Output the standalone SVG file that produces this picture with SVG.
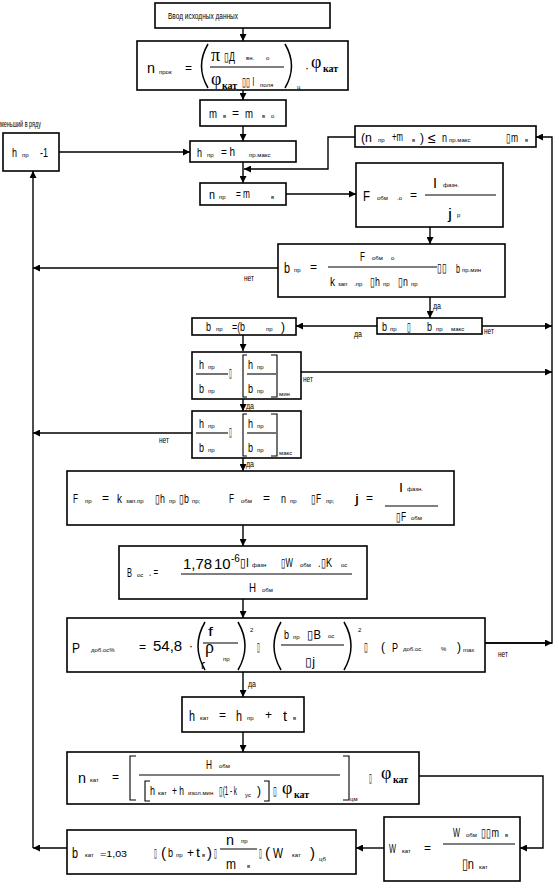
<svg xmlns="http://www.w3.org/2000/svg" width="559" height="894" viewBox="0 0 559 894">
<style>
.box{fill:#fff;stroke:#000;stroke-width:1.6}
.ln{fill:none;stroke:#000;stroke-width:1.4}
.fr{stroke:#000;stroke-width:1.1}
.pa{fill:none;stroke:#000;stroke-width:1.5}
text{font-family:"Liberation Sans Narrow","Liberation Sans",Arial,sans-serif;fill:#000}
.m{font-size:12px}
.b{font-size:15px}
.s{font-size:6px}
.l{font-size:9px}
.g{font-family:"Liberation Serif","DejaVu Serif",serif;font-size:18px}
.k{font-family:"Liberation Serif","DejaVu Serif",serif;font-size:10px;font-weight:bold}
.r{font-family:"Liberation Sans",Arial,sans-serif;font-size:15px}
.p{font-family:"Liberation Sans",Arial,sans-serif}
</style>
<defs>
<marker id="a" viewBox="0 0 10 10" refX="10" refY="5" markerWidth="7" markerHeight="7" orient="auto" markerUnits="userSpaceOnUse">
<path d="M0,0 L10,5 L0,10 z" fill="#000"/>
</marker>
</defs>

<g id="connectors">
<line class="ln" x1="243" y1="28" x2="243" y2="41" marker-end="url(#a)"/>
<line class="ln" x1="243" y1="90" x2="243" y2="100" marker-end="url(#a)"/>
<line class="ln" x1="243" y1="126" x2="243" y2="141" marker-end="url(#a)"/>
<line class="ln" x1="243" y1="162" x2="243" y2="183" marker-end="url(#a)"/>
<polyline class="ln" points="355,137 328,137 328,169 244,169" marker-end="url(#a)"/>
<line class="ln" x1="59" y1="152" x2="190" y2="152" marker-end="url(#a)"/>
<line class="ln" x1="286" y1="194" x2="356" y2="194" marker-end="url(#a)"/>
<polyline class="ln" points="485,643 552,643 552,137 536,137" marker-end="url(#a)"/>
<line class="ln" x1="430" y1="227" x2="430" y2="244" marker-end="url(#a)"/>
<line class="ln" x1="278" y1="268" x2="33" y2="268" marker-end="url(#a)"/>
<line class="ln" x1="430" y1="297" x2="430" y2="318" marker-end="url(#a)"/>
<line class="ln" x1="377" y1="326" x2="296" y2="326" marker-end="url(#a)"/>
<line class="ln" x1="482" y1="326" x2="552" y2="326" marker-end="url(#a)"/>
<line class="ln" x1="243" y1="335" x2="243" y2="351" marker-end="url(#a)"/>
<line class="ln" x1="301" y1="372" x2="552" y2="372" marker-end="url(#a)"/>
<line class="ln" x1="243" y1="399" x2="243" y2="411" marker-end="url(#a)"/>
<line class="ln" x1="192" y1="433" x2="33" y2="433" marker-end="url(#a)"/>
<line class="ln" x1="243" y1="458" x2="243" y2="471" marker-end="url(#a)"/>
<line class="ln" x1="243" y1="525" x2="243" y2="546" marker-end="url(#a)"/>
<line class="ln" x1="243" y1="599" x2="243" y2="618" marker-end="url(#a)"/>
<line class="ln" x1="485" y1="643" x2="552" y2="643" marker-end="url(#a)"/>
<line class="ln" x1="243" y1="672" x2="243" y2="697" marker-end="url(#a)"/>
<line class="ln" x1="243" y1="732" x2="243" y2="752" marker-end="url(#a)"/>
<polyline class="ln" points="419,776 543,776 543,848 520,848" marker-end="url(#a)"/>
<line class="ln" x1="384" y1="848" x2="356" y2="848" marker-end="url(#a)"/>
<line class="ln" x1="67" y1="848" x2="33" y2="848" marker-end="url(#a)"/>
<line class="ln" x1="33" y1="848" x2="33" y2="171" marker-end="url(#a)"/>
<text class="l" x="433" y="309" textLength="8" lengthAdjust="spacingAndGlyphs">да</text>
<text class="l" x="354" y="337" textLength="8" lengthAdjust="spacingAndGlyphs">да</text>
<text class="l" x="484" y="334" textLength="10" lengthAdjust="spacingAndGlyphs">нет</text>
<text class="l" x="244" y="281" textLength="10" lengthAdjust="spacingAndGlyphs">нет</text>
<text class="l" x="303" y="382" textLength="10" lengthAdjust="spacingAndGlyphs">нет</text>
<text class="l" x="246" y="409" textLength="8" lengthAdjust="spacingAndGlyphs">да</text>
<text class="l" x="159" y="443" textLength="10" lengthAdjust="spacingAndGlyphs">нет</text>
<text class="l" x="246" y="467" textLength="8" lengthAdjust="spacingAndGlyphs">да</text>
<text class="l" x="498" y="657" textLength="10" lengthAdjust="spacingAndGlyphs">нет</text>
<text class="l" x="248" y="687" textLength="8" lengthAdjust="spacingAndGlyphs">да</text>
</g>

<g id="n1">
<rect class="box" x="155" y="3" width="175" height="25"/>
<text class="l" x="168" y="19" textLength="70" lengthAdjust="spacingAndGlyphs">Ввод исходных данных</text>
</g>

<g id="n2">
<rect class="box" x="137" y="41" width="211" height="49"/>
<text class="b" x="147" y="73" textLength="8" lengthAdjust="spacingAndGlyphs">n</text>
<text class="s" x="159" y="74">прок</text>
<text class="m" x="185" y="72">=</text>
<path class="pa" d="M208,44 Q195,66 208,88"/>
<text class="g" font-size="22" x="211" y="61">π</text>
<text class="m" x="224" y="61" textLength="11" lengthAdjust="spacingAndGlyphs">▯Д</text>
<text class="s" x="246" y="60">вн.</text>
<text class="s" x="266" y="60">о</text>
<line class="fr" x1="210" y1="67" x2="284" y2="67"/>
<text class="g" x="211" y="85">φ</text>
<text class="k" x="222" y="89">кат</text>
<text class="m" x="242" y="86" textLength="12" lengthAdjust="spacingAndGlyphs">▯▯ l</text>
<text class="s" x="260" y="87">поля</text>
<path class="pa" d="M285,44 Q298,66 285,88"/>
<text class="s" font-size="7" x="297" y="89">ц</text>
<text class="m" x="305" y="72">·</text>
<text class="g" x="311" y="68">φ</text>
<text class="k" x="323" y="72">кат</text>
</g>

<g id="n3">
<rect class="box" x="200" y="100" width="86" height="26"/>
<text class="m" x="209" y="118" textLength="8" lengthAdjust="spacingAndGlyphs">m</text>
<text class="s" x="223" y="118">в</text>
<text class="m" x="232" y="117">=</text>
<text class="m" x="245" y="118" textLength="8" lengthAdjust="spacingAndGlyphs">m</text>
<text class="s" x="262" y="118">в</text>
<text class="s" x="271" y="118">о</text>
</g>

<g id="n4">
<rect class="box" x="190" y="141" width="106" height="21"/>
<text class="m" x="197" y="157" textLength="5" lengthAdjust="spacingAndGlyphs">h</text>
<text class="s" x="207" y="157">пр</text>
<text class="m" x="221" y="156" textLength="14" lengthAdjust="spacingAndGlyphs">= h</text>
<text class="s" x="249" y="157">пр.макс</text>
</g>

<g id="n5">
<rect class="box" x="200" y="183" width="86" height="22"/>
<text class="m" x="209" y="199" textLength="6" lengthAdjust="spacingAndGlyphs">n</text>
<text class="s" x="219" y="199">пр</text>
<text class="m" x="236" y="198" textLength="14" lengthAdjust="spacingAndGlyphs">= m</text>
<text class="s" x="271" y="199">в</text>
</g>

<g id="n6">
<rect class="box" x="3" y="133" width="56" height="38"/>
<text class="m" x="12" y="157" textLength="5" lengthAdjust="spacingAndGlyphs">h</text>
<text class="s" x="22" y="157">пр</text>
<text class="m" x="40" y="157" textLength="8" lengthAdjust="spacingAndGlyphs">-1</text>
<text class="l" x="0" y="127" textLength="41" lengthAdjust="spacingAndGlyphs">меньший в ряду</text>
</g>

<g id="n7">
<rect class="box" x="355" y="126" width="181" height="21"/>
<text class="m" x="361" y="142" textLength="11" lengthAdjust="spacingAndGlyphs">(n</text>
<text class="s" x="378" y="142">пр</text>
<text class="m" x="392" y="141" textLength="11" lengthAdjust="spacingAndGlyphs">+m</text>
<text class="s" x="412" y="142">в</text>
<text class="m" x="420" y="142">)</text>
<text class="p" font-size="14" x="428" y="143">≤</text>
<text class="m" x="442" y="142" textLength="5" lengthAdjust="spacingAndGlyphs">n</text>
<text class="s" x="449" y="142">пр.макс</text>
<text class="m" x="506" y="142" textLength="12" lengthAdjust="spacingAndGlyphs">▯m</text>
<text class="s" x="525" y="142">в</text>
</g>

<g id="n8">
<rect class="box" x="356" y="163" width="147" height="64"/>
<text class="b" font-size="20" x="363" y="201" textLength="7" lengthAdjust="spacingAndGlyphs">F</text>
<text class="s" x="377" y="200">обм</text>
<text class="s" x="397" y="200">.о</text>
<text class="m" x="410" y="199">=</text>
<text class="b" font-size="20" x="433" y="188" textLength="4" lengthAdjust="spacingAndGlyphs">I</text>
<text class="s" x="443" y="187">фазн.</text>
<line class="fr" x1="425" y1="195" x2="496" y2="195"/>
<text class="b" font-size="20" x="448" y="219" textLength="4" lengthAdjust="spacingAndGlyphs">j</text>
<text class="s" x="457" y="217">р</text>
</g>

<g id="n9">
<rect class="box" x="278" y="244" width="227" height="53"/>
<text class="b" x="284" y="273" textLength="6" lengthAdjust="spacingAndGlyphs">b</text>
<text class="s" x="294" y="272">пр</text>
<text class="m" x="310" y="271">=</text>
<text class="m" x="360" y="261" textLength="5" lengthAdjust="spacingAndGlyphs">F</text>
<text class="s" x="372" y="260">обм</text>
<text class="s" x="391" y="260">о</text>
<line class="fr" x1="328" y1="267" x2="437" y2="267"/>
<text class="m" x="330" y="286" textLength="5" lengthAdjust="spacingAndGlyphs">k</text>
<text class="s" x="338" y="286">зап</text>
<text class="s" x="354" y="286">.пр</text>
<text class="m" x="370" y="286" textLength="10" lengthAdjust="spacingAndGlyphs">▯h</text>
<text class="s" x="383" y="286">пр</text>
<text class="m" x="398" y="286" textLength="10" lengthAdjust="spacingAndGlyphs">▯n</text>
<text class="s" x="411" y="286">пр</text>
<text class="m" x="437" y="272" textLength="10" lengthAdjust="spacingAndGlyphs">▯▯</text>
<text class="m" x="456" y="273" textLength="4" lengthAdjust="spacingAndGlyphs">b</text>
<text class="s" x="462" y="272">пр.мин</text>
</g>

<g id="n10">
<rect class="box" x="377" y="318" width="105" height="16"/>
<text class="m" x="382" y="331" textLength="5" lengthAdjust="spacingAndGlyphs">b</text>
<text class="s" x="390" y="331">пр</text>
<text class="m" x="407" y="331" textLength="4" lengthAdjust="spacingAndGlyphs">▯</text>
<text class="m" x="427" y="331" textLength="5" lengthAdjust="spacingAndGlyphs">b</text>
<text class="s" x="436" y="331">пр</text>
<text class="s" x="451" y="331">макс</text>
</g>

<g id="n11">
<rect class="box" x="192" y="318" width="104" height="17"/>
<text class="m" x="206" y="331" textLength="5" lengthAdjust="spacingAndGlyphs">b</text>
<text class="s" x="216" y="331">пр</text>
<text class="m" x="232" y="331" textLength="13" lengthAdjust="spacingAndGlyphs">=(b</text>
<text class="s" x="266" y="331">пр</text>
<text class="m" x="281" y="331">)</text>
</g>

<g id="n12">
<rect class="box" x="192" y="352" width="109" height="47"/>
<text class="m" x="199" y="369" textLength="5" lengthAdjust="spacingAndGlyphs">h</text>
<text class="s" x="208" y="369">пр</text>
<line class="fr" x1="196" y1="374" x2="228" y2="374"/>
<text class="m" x="199" y="393" textLength="5" lengthAdjust="spacingAndGlyphs">b</text>
<text class="s" x="208" y="393">пр</text>
<text class="m" x="229" y="377" textLength="3" lengthAdjust="spacingAndGlyphs">▯</text>
<path class="fr" fill="none" d="M247,355 H243 V397 H247"/>
<text class="m" x="248" y="369" textLength="5" lengthAdjust="spacingAndGlyphs">h</text>
<text class="s" x="257" y="369">пр</text>
<line class="fr" x1="247" y1="374" x2="276" y2="374"/>
<text class="m" x="248" y="393" textLength="5" lengthAdjust="spacingAndGlyphs">b</text>
<text class="s" x="257" y="393">пр</text>
<path class="fr" fill="none" d="M271,355 H277 V397 H271"/>
<text class="s" font-size="4" x="279" y="396">мин</text>
</g>

<g id="n13">
<rect class="box" x="192" y="411" width="109" height="47"/>
<text class="m" x="199" y="428" textLength="5" lengthAdjust="spacingAndGlyphs">h</text>
<text class="s" x="208" y="428">пр</text>
<line class="fr" x1="196" y1="433" x2="228" y2="433"/>
<text class="m" x="199" y="452" textLength="5" lengthAdjust="spacingAndGlyphs">b</text>
<text class="s" x="208" y="452">пр</text>
<text class="m" x="229" y="436" textLength="3" lengthAdjust="spacingAndGlyphs">▯</text>
<path class="fr" fill="none" d="M247,414 H243 V456 H247"/>
<text class="m" x="248" y="428" textLength="5" lengthAdjust="spacingAndGlyphs">h</text>
<text class="s" x="257" y="428">пр</text>
<line class="fr" x1="247" y1="433" x2="276" y2="433"/>
<text class="m" x="248" y="452" textLength="5" lengthAdjust="spacingAndGlyphs">b</text>
<text class="s" x="257" y="452">пр</text>
<path class="fr" fill="none" d="M271,414 H277 V456 H271"/>
<text class="s" font-size="4" x="279" y="455">макс</text>
</g>

<g id="n14">
<rect class="box" x="67" y="471" width="387" height="54"/>
<text class="m" x="73" y="503" textLength="5" lengthAdjust="spacingAndGlyphs">F</text>
<text class="s" x="85" y="503">пр</text>
<text class="m" x="102" y="502">=</text>
<text class="m" x="117" y="503" textLength="5" lengthAdjust="spacingAndGlyphs">k</text>
<text class="s" x="126" y="503">зап.пр</text>
<text class="m" x="155" y="503" textLength="10" lengthAdjust="spacingAndGlyphs">▯h</text>
<text class="s" x="169" y="503">пр</text>
<text class="m" x="179" y="503" textLength="10" lengthAdjust="spacingAndGlyphs">▯b</text>
<text class="s" x="192" y="503">пр;</text>
<text class="m" x="229" y="503" textLength="5" lengthAdjust="spacingAndGlyphs">F</text>
<text class="s" x="241" y="503">обм</text>
<text class="m" x="263" y="502">=</text>
<text class="m" x="281" y="503" textLength="5" lengthAdjust="spacingAndGlyphs">n</text>
<text class="s" x="290" y="503">пр</text>
<text class="m" x="311" y="503" textLength="10" lengthAdjust="spacingAndGlyphs">▯F</text>
<text class="s" x="326" y="503">пр;</text>
<text class="m" x="355" y="503" textLength="4" lengthAdjust="spacingAndGlyphs">j</text>
<text class="m" x="366" y="502">=</text>
<text class="m" x="399" y="492" textLength="4" lengthAdjust="spacingAndGlyphs">I</text>
<text class="s" x="407" y="491">фазн.</text>
<line class="fr" x1="385" y1="506" x2="438" y2="506"/>
<text class="m" x="396" y="521" textLength="10" lengthAdjust="spacingAndGlyphs">▯F</text>
<text class="s" x="411" y="520">обм</text>
</g>

<g id="n15">
<rect class="box" x="119" y="546" width="248" height="53"/>
<text class="m" x="127" y="577" textLength="5" lengthAdjust="spacingAndGlyphs">B</text>
<text class="s" x="137" y="577">ос</text>
<text class="m" x="149" y="576" textLength="9" lengthAdjust="spacingAndGlyphs">. =</text>
<text class="r" x="183" y="569">1,78</text>
<text class="r" x="214" y="569">10</text>
<text class="p" font-size="10" x="231" y="562">-6</text>
<text class="m" x="240" y="567" textLength="9" lengthAdjust="spacingAndGlyphs">▯I</text>
<text class="s" x="252" y="567">фазн</text>
<text class="m" x="281" y="567" textLength="12" lengthAdjust="spacingAndGlyphs">▯W</text>
<text class="s" x="300" y="567">обм</text>
<text class="m" x="318" y="567" textLength="14" lengthAdjust="spacingAndGlyphs">.▯K</text>
<text class="s" x="341" y="567">ос</text>
<line class="fr" x1="181" y1="574" x2="352" y2="574"/>
<text class="m" x="249" y="592" textLength="7" lengthAdjust="spacingAndGlyphs">H</text>
<text class="s" x="262" y="592">обм</text>
</g>

<g id="n16">
<rect class="box" x="67" y="618" width="418" height="54"/>
<text class="b" font-size="20" x="72" y="653" textLength="8" lengthAdjust="spacingAndGlyphs">P</text>
<text class="s" x="91" y="652">доб.ос%</text>
<text class="m" x="139" y="651">=</text>
<text class="r" font-size="17" x="153" y="651">54,8</text>
<text class="m" x="189" y="650">·</text>
<path class="pa" d="M205,622 Q191,646 205,670"/>
<text class="m" x="208" y="636" textLength="5" lengthAdjust="spacingAndGlyphs">f</text>
<line class="fr" x1="203" y1="643" x2="238" y2="643"/>
<text class="g" font-size="16" x="205" y="653">ρ</text>
<text class="m" font-size="10" x="201" y="669">ɾ</text>
<text class="s" x="223" y="661">пр</text>
<path class="pa" d="M238,622 Q252,646 238,670"/>
<text class="s" x="250" y="632">2</text>
<text class="m" x="257" y="651" textLength="3" lengthAdjust="spacingAndGlyphs">▯</text>
<path class="pa" d="M281,622 Q267,646 281,670"/>
<text class="m" x="284" y="639" textLength="5" lengthAdjust="spacingAndGlyphs">b</text>
<text class="s" x="293" y="639">пр</text>
<text class="m" x="307" y="639" textLength="14" lengthAdjust="spacingAndGlyphs">▯B</text>
<text class="s" x="328" y="638">ос</text>
<line class="fr" x1="281" y1="645" x2="344" y2="645"/>
<text class="m" x="305" y="666" textLength="10" lengthAdjust="spacingAndGlyphs">▯j</text>
<path class="pa" d="M344,622 Q358,646 344,670"/>
<text class="s" x="358" y="632">2</text>
<text class="m" x="364" y="651" textLength="4" lengthAdjust="spacingAndGlyphs">▯</text>
<text class="m" x="381" y="651">(</text>
<text class="m" x="392" y="652" textLength="6" lengthAdjust="spacingAndGlyphs">P</text>
<text class="s" x="403" y="651">доб.ос.</text>
<text class="s" x="441" y="651">%</text>
<text class="m" x="457" y="651">)</text>
<text class="s" x="463" y="652">max</text>
</g>

<g id="n17">
<rect class="box" x="182" y="697" width="122" height="35"/>
<text class="b" x="189" y="721" textLength="6" lengthAdjust="spacingAndGlyphs">h</text>
<text class="s" x="200" y="720">кат</text>
<text class="m" x="219" y="719">=</text>
<text class="b" x="236" y="721" textLength="6" lengthAdjust="spacingAndGlyphs">h</text>
<text class="s" x="247" y="720">пр</text>
<text class="m" x="265" y="719">+</text>
<text class="b" x="283" y="721" textLength="4" lengthAdjust="spacingAndGlyphs">t</text>
<text class="s" x="293" y="720">в</text>
</g>

<g id="n18">
<rect class="box" x="67" y="752" width="352" height="52"/>
<text class="b" x="78" y="783" textLength="8" lengthAdjust="spacingAndGlyphs">n</text>
<text class="s" x="90" y="782">кат</text>
<text class="m" x="112" y="781">=</text>
<path class="fr" fill="none" stroke-width="1.6" d="M136,756 H130 V800 H136"/>
<text class="m" x="206" y="769" textLength="6" lengthAdjust="spacingAndGlyphs">H</text>
<text class="s" x="219" y="768">обм</text>
<line class="fr" x1="139" y1="775" x2="340" y2="775"/>
<path class="fr" fill="none" stroke-width="1.6" d="M150,781 H145 V801 H150"/>
<text class="m" x="150" y="795" textLength="5" lengthAdjust="spacingAndGlyphs">h</text>
<text class="s" x="158" y="795">кат</text>
<text class="m" x="172" y="795" textLength="12" lengthAdjust="spacingAndGlyphs">+ h</text>
<text class="s" x="188" y="795">изол.мин</text>
<text class="m" x="219" y="795" textLength="18" lengthAdjust="spacingAndGlyphs">▯(1 - k</text>
<text class="s" x="245" y="797">ус</text>
<text class="m" x="257" y="795">)</text>
<path class="fr" fill="none" stroke-width="1.6" d="M264,781 H269 V801 H264"/>
<text class="m" x="273" y="795" textLength="4" lengthAdjust="spacingAndGlyphs">▯</text>
<text class="g" x="282" y="794">φ</text>
<text class="k" x="294" y="798">кат</text>
<path class="fr" fill="none" stroke-width="1.6" d="M343,756 H349 V800 H343"/>
<text class="s" x="350" y="801">цм</text>
<text class="m" x="369" y="782" textLength="3" lengthAdjust="spacingAndGlyphs">▯</text>
<text class="g" x="381" y="779">φ</text>
<text class="k" x="393" y="783">кат</text>
</g>

<g id="n19">
<rect class="box" x="384" y="817" width="136" height="64"/>
<text class="m" x="389" y="853" textLength="7" lengthAdjust="spacingAndGlyphs">W</text>
<text class="s" x="402" y="853">кат</text>
<text class="m" x="424" y="852">=</text>
<text class="m" x="453" y="837" textLength="7" lengthAdjust="spacingAndGlyphs">W</text>
<text class="s" x="466" y="837">обм</text>
<text class="m" x="481" y="837" textLength="18" lengthAdjust="spacingAndGlyphs">▯▯m</text>
<text class="s" x="505" y="837">в</text>
<line class="fr" x1="443" y1="844" x2="515" y2="844"/>
<text class="b" x="462" y="869" textLength="12" lengthAdjust="spacingAndGlyphs">▯n</text>
<text class="s" x="479" y="869">кат</text>
</g>

<g id="n20">
<rect class="box" x="67" y="830" width="289" height="44"/>
<text class="b" x="72" y="858" textLength="6" lengthAdjust="spacingAndGlyphs">b</text>
<text class="s" x="85" y="857">кат</text>
<text class="l" x="100" y="857" textLength="27" lengthAdjust="spacingAndGlyphs">=1,03</text>
<text class="m" x="154" y="857" textLength="3" lengthAdjust="spacingAndGlyphs">▯</text>
<text class="b" x="161" y="858">(</text>
<text class="m" x="168" y="857" textLength="5" lengthAdjust="spacingAndGlyphs">b</text>
<text class="s" x="176" y="857">пр</text>
<text class="m" x="187" y="857">+</text>
<text class="m" x="196" y="857" textLength="4" lengthAdjust="spacingAndGlyphs">t</text>
<text class="s" x="202" y="857">в</text>
<text class="b" x="207" y="858">)</text>
<text class="m" x="214" y="857" textLength="3" lengthAdjust="spacingAndGlyphs">▯</text>
<text class="b" x="226" y="845" textLength="8" lengthAdjust="spacingAndGlyphs">n</text>
<text class="s" x="241" y="843">пр</text>
<line class="fr" x1="220" y1="849" x2="257" y2="849"/>
<text class="b" x="226" y="869" textLength="10" lengthAdjust="spacingAndGlyphs">m</text>
<text class="s" x="247" y="868">в</text>
<text class="m" x="259" y="857" textLength="3" lengthAdjust="spacingAndGlyphs">▯</text>
<text class="b" x="265" y="858">(</text>
<text class="b" x="273" y="858" textLength="10" lengthAdjust="spacingAndGlyphs">W</text>
<text class="s" x="292" y="857">кат</text>
<text class="b" x="310" y="858">)</text>
<text class="s" x="319" y="861">цб</text>
</g>
</svg>
